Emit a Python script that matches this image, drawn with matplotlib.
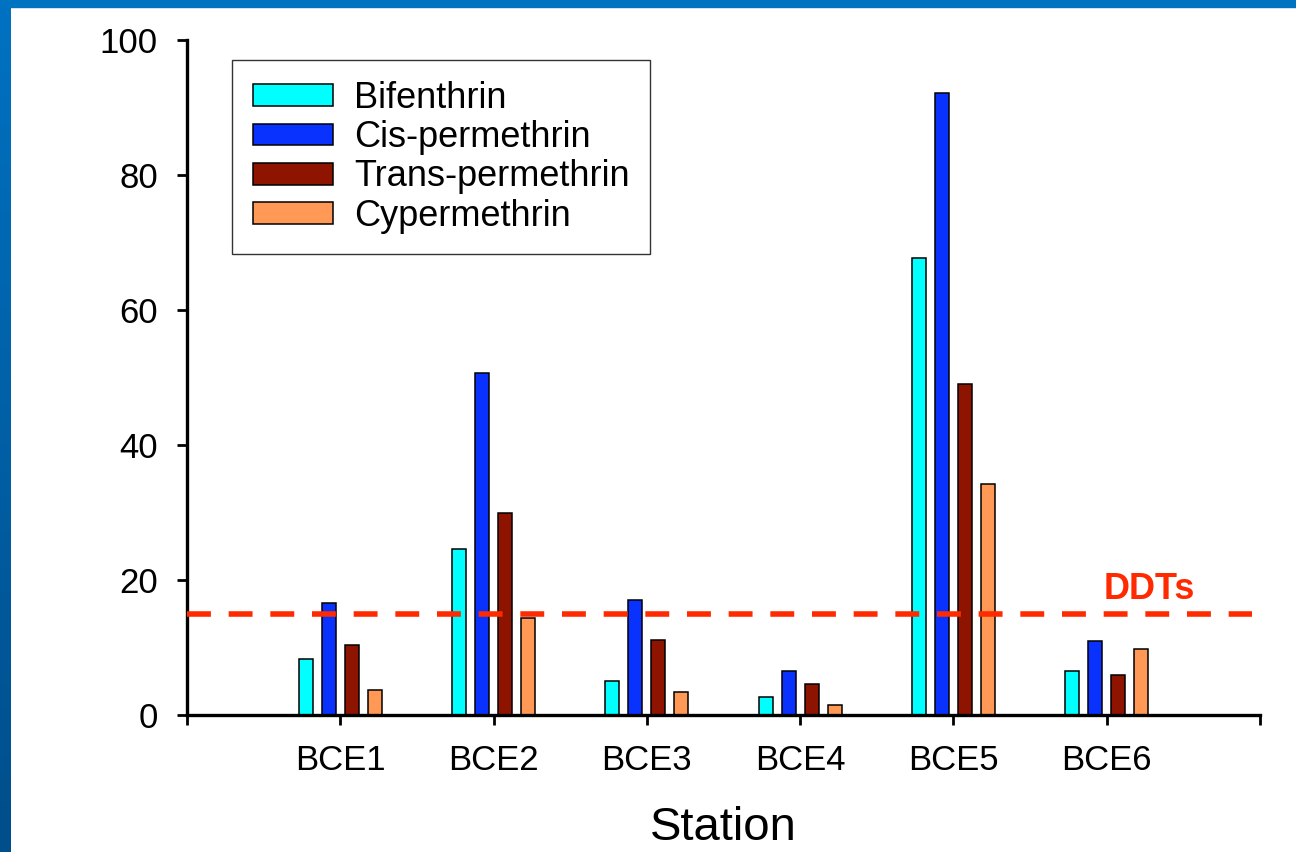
"""Pyrethroid concentrations per station, with the DDTs reference level."""

import numpy as np
import matplotlib

matplotlib.use("Agg")
import matplotlib.pyplot as plt
from matplotlib.patches import Rectangle

STATIONS = ["BCE1", "BCE2", "BCE3", "BCE4", "BCE5", "BCE6"]
SERIES = ["Bifenthrin", "Cis-permethrin", "Trans-permethrin", "Cypermethrin"]
BIFENTHRIN = [8.3, 24.6, 5.0, 2.7, 67.7, 6.5]
CIS_PERMETHRIN = [16.6, 50.7, 17.0, 6.5, 92.1, 11.0]
TRANS_PERMETHRIN = [10.4, 29.9, 11.1, 4.6, 49.0, 5.9]
CYPERMETHRIN = [3.7, 14.4, 3.4, 1.5, 34.2, 9.8]
DDT_LEVEL = 15.0
Y_TICKS = [0, 20, 40, 60, 80, 100]

COLORS = ["#00FFFF", "#0A32FF", "#8E1400", "#FF9955"]

plt.rcParams["font.family"] = ["Liberation Sans", "DejaVu Sans"]

fig = plt.figure(figsize=(12.96, 8.52), dpi=100)

# slide-style blue frame on the left and top edges
strip = fig.add_axes([0, 0, 11 / 1296, 1])
grad = np.linspace(0, 1, 256).reshape(-1, 1)
strip.imshow(grad, aspect="auto", cmap=matplotlib.colors.LinearSegmentedColormap.from_list(
    "frame", ["#0072C2", "#004E8A"]), extent=[0, 1, 0, 1])
strip.axis("off")
fig.patches.append(Rectangle((0, 1 - 7 / 852), 1, 7 / 852, transform=fig.transFigure,
                             color="#0072C2", zorder=0))

ax = fig.add_axes([187 / 1296, 1 - 715 / 852, (1260 - 187) / 1296, (715 - 40) / 852])

x = np.arange(1, len(STATIONS) + 1)
pitch = 0.15
width = 0.092
values = [BIFENTHRIN, CIS_PERMETHRIN, TRANS_PERMETHRIN, CYPERMETHRIN]
for i, (name, vals, col) in enumerate(zip(SERIES, values, COLORS)):
    ax.bar(x + (i - 1.5) * pitch, vals, width, color=col, edgecolor="black",
           linewidth=1.1, label=name, zorder=2)

ax.plot([0, 6.95], [DDT_LEVEL, DDT_LEVEL], color="#FF2A00", lw=4,
        dashes=(4.3, 3.2), zorder=3)
ax.text(5.98, DDT_LEVEL + 1.0, "DDTs", color="#FF2A00", fontsize=26,
        fontweight="bold", ha="left", va="bottom")

ax.set_xlim(0, 7)
ax.set_ylim(0, 100)
ax.set_xticks(np.arange(0, 8))
ax.set_xticklabels([""] + STATIONS + [""])
ax.set_yticks(Y_TICKS)
ax.tick_params(axis="both", direction="out", length=7, width=2, labelsize=25,
               colors="black")
ax.tick_params(axis="y", pad=14)
ax.tick_params(axis="x", pad=14)
for side in ("top", "right"):
    ax.spines[side].set_visible(False)
for side in ("left", "bottom"):
    ax.spines[side].set_linewidth(2.4)
ax.set_xlabel("Station", fontsize=34, labelpad=21)

leg = ax.legend(loc="upper left", bbox_to_anchor=(0.042, 0.970), borderaxespad=0,
                fontsize=26, frameon=True, fancybox=False, edgecolor="black",
                handlelength=2.22, handleheight=0.55, handletextpad=0.58,
                labelspacing=0.12, borderpad=0.57)
leg.get_frame().set_linewidth(1.0)

fig.savefig("out.png", dpi=100)
